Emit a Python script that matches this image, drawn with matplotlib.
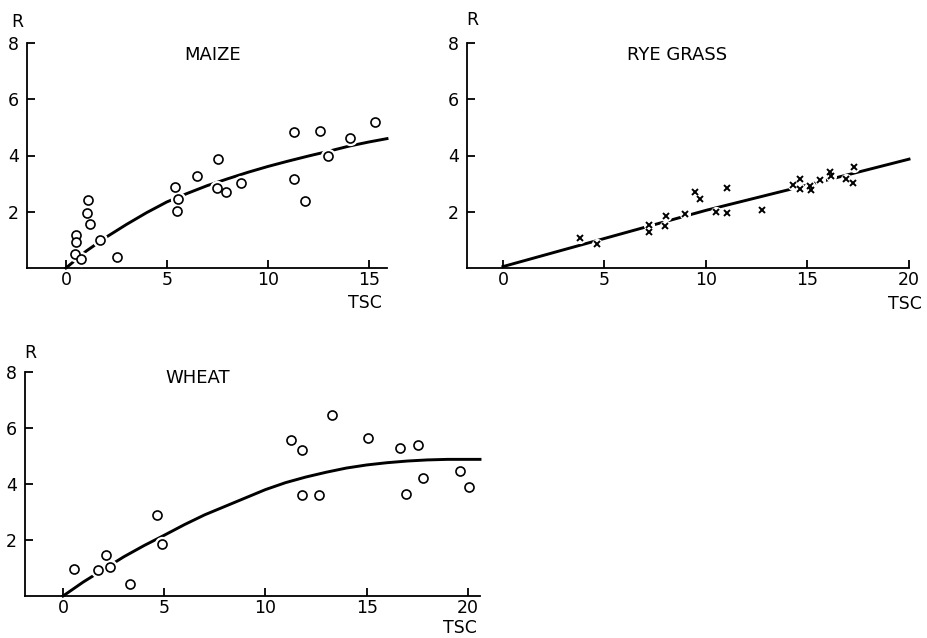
import matplotlib
matplotlib.use("Agg")
import matplotlib.pyplot as plt

# ---------------- data ----------------
maize_x = [0.48, 0.48, 0.44, 0.76, 1.07, 1.04, 1.17, 1.69, 2.52, 5.41, 5.53, 5.51,
           6.48, 7.53, 7.50, 7.91, 8.65, 11.28, 11.28, 11.83, 12.60, 12.99, 14.08, 15.30]
maize_y = [1.17, 0.91, 0.51, 0.32, 2.42, 1.95, 1.56, 1.00, 0.39, 2.87, 2.46, 2.03,
           3.27, 3.89, 2.84, 2.70, 3.01, 4.83, 3.15, 2.40, 4.87, 3.98, 4.61, 5.20]
maize_fit_x = [0, 1, 2, 3, 4, 5, 6, 7, 8, 9, 10, 11, 12, 13, 14, 15, 15.9]
maize_fit_y = [0, 0.60, 1.10, 1.55, 1.97, 2.35, 2.65, 2.93, 3.17, 3.40, 3.61,
               3.80, 3.98, 4.15, 4.33, 4.48, 4.60]

rye_x = [3.78, 4.65, 7.18, 7.18, 8.05, 8.00, 8.95, 9.46, 9.72, 10.51, 11.03, 11.03,
         12.78, 14.29, 14.61, 14.61, 15.14, 15.19, 15.60, 16.09, 16.14, 16.88, 17.24, 17.27]
rye_y = [1.07, 0.86, 1.54, 1.27, 1.86, 1.48, 1.93, 2.69, 2.45, 1.98, 1.95, 2.85,
         2.05, 2.95, 3.16, 2.81, 2.93, 2.78, 3.13, 3.40, 3.26, 3.16, 3.02, 3.58]
rye_fit_x = [0, 5, 10, 15, 20]
rye_fit_y = [0.05, 1.05, 2.05, 2.95, 3.87]

wheat_x = [0.53, 1.74, 2.14, 2.34, 3.33, 4.64, 4.91, 11.28, 11.80, 11.80, 12.63,
           13.27, 15.09, 16.67, 16.94, 17.56, 17.79, 19.62, 20.05]
wheat_y = [0.97, 0.94, 1.48, 1.05, 0.43, 2.91, 1.86, 5.58, 5.23, 3.61, 3.61,
           6.45, 5.64, 5.27, 3.65, 5.40, 4.20, 4.47, 3.90]
wheat_fit_x = [0, 1, 2, 3, 4, 5, 6, 7, 8, 9, 10, 11, 12, 13, 14, 15, 16, 17, 18, 19, 20, 20.6]
wheat_fit_y = [0, 0.50, 0.95, 1.40, 1.80, 2.17, 2.55, 2.90, 3.20, 3.50, 3.80, 4.05,
               4.25, 4.42, 4.57, 4.68, 4.76, 4.82, 4.86, 4.88, 4.88, 4.88]

x_ticks = [0, 5, 10, 15, 20]
y_ticks = [2, 4, 6, 8]

W, H = 928, 638
fig = plt.figure(figsize=(W / 100, H / 100), dpi=100)
FS = 12.5


def make_axes(left, right, bottom, top, xlim):
    ax = fig.add_axes([left / W, 1 - bottom / H, (right - left) / W, (bottom - top) / H])
    ax.set_xlim(*xlim)
    ax.set_ylim(0, 8)
    for s in ("top", "right"):
        ax.spines[s].set_visible(False)
    for s in ("left", "bottom"):
        ax.spines[s].set_linewidth(1.3)
    ax.set_xticks([t for t in x_ticks if t <= xlim[1]])
    ax.set_yticks(y_ticks)
    ax.tick_params(direction="in", length=6, width=1.3, labelsize=FS)
    ax.tick_params(axis="x", pad=2)
    ax.tick_params(axis="y", pad=6)
    return ax


def draw(ax, fx, fy, px, py, marker):
    ax.plot(fx, fy, color="black", lw=2.1, zorder=2, clip_on=False)
    if marker == "o":
        ax.plot(px, py, ls="none", marker="o", ms=10, mfc="white", mec="white",
                zorder=3, clip_on=False)
        ax.plot(px, py, ls="none", marker="o", ms=6.5, mfc="white", mec="black",
                mew=1.2, zorder=4, clip_on=False)
    else:
        ax.plot(px, py, ls="none", marker="o", ms=7, mfc="white", mec="white",
                zorder=3, clip_on=False)
        ax.plot(px, py, ls="none", marker="x", ms=4.5, mec="black",
                mew=1.4, zorder=4, clip_on=False)


# MAIZE
ax1 = make_axes(27, 387, 268, 43, (-1.93, 15.9))
draw(ax1, maize_fit_x, maize_fit_y, maize_x, maize_y, "o")
fig.text(213 / W, 1 - 55 / H, "MAIZE", ha="center", va="center", fontsize=13)
fig.text(17 / W, 1 - 22 / H, "R", ha="center", va="center", fontsize=FS)
fig.text(365 / W, 1 - 303 / H, "TSC", ha="center", va="center", fontsize=FS)

# RYE GRASS
ax2 = make_axes(467, 909, 268, 43, (-1.77, 20.0))
draw(ax2, rye_fit_x, rye_fit_y, rye_x, rye_y, "x")
fig.text(677 / W, 1 - 55 / H, "RYE GRASS", ha="center", va="center", fontsize=13)
fig.text(472 / W, 1 - 20 / H, "R", ha="center", va="center", fontsize=FS)
fig.text(905 / W, 1 - 304 / H, "TSC", ha="center", va="center", fontsize=FS)

# WHEAT
ax3 = make_axes(25, 480, 596, 372, (-1.88, 20.6))
draw(ax3, wheat_fit_x, wheat_fit_y, wheat_x, wheat_y, "o")
fig.text(198 / W, 1 - 378 / H, "WHEAT", ha="center", va="center", fontsize=13)
fig.text(30 / W, 1 - 353 / H, "R", ha="center", va="center", fontsize=FS)
fig.text(460 / W, 1 - 628 / H, "TSC", ha="center", va="center", fontsize=FS)

fig.savefig("out.png", dpi=100, facecolor="white")
